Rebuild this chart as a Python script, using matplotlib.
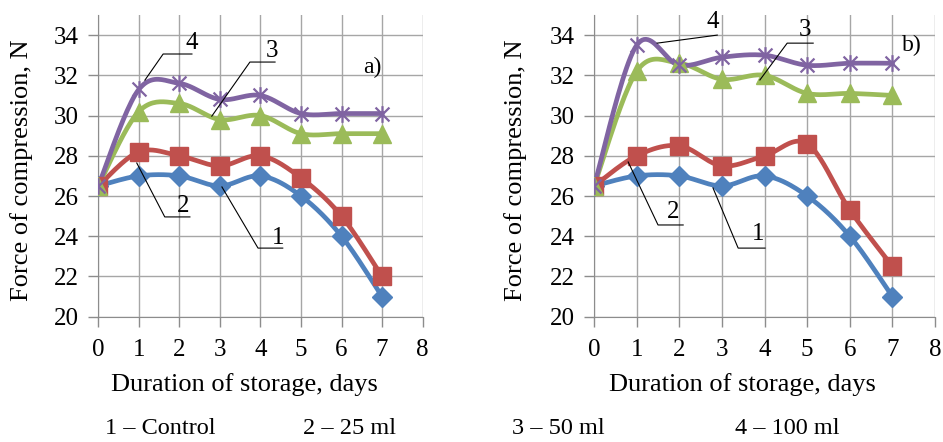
import numpy as np
import matplotlib
matplotlib.use('Agg')
import matplotlib.pyplot as plt
from matplotlib.path import Path

plt.rcParams['font.family'] = ['Liberation Serif', 'DejaVu Serif']

days = [0, 1, 2, 3, 4, 5, 6, 7]

# panel a)
a_control = [26.5, 27.0, 27.0, 26.5, 27.0, 26.0, 24.0, 21.0]
a_25ml = [26.5, 28.2, 28.0, 27.5, 28.0, 26.9, 25.0, 22.0]
a_50ml = [26.5, 30.2, 30.6, 29.8, 30.0, 29.1, 29.1, 29.1]
a_100ml = [26.5, 31.3, 31.6, 30.8, 31.0, 30.1, 30.1, 30.1]

# panel b)
b_control = [26.5, 27.0, 27.0, 26.5, 27.0, 26.0, 24.0, 21.0]
b_25ml = [26.5, 28.0, 28.5, 27.5, 28.0, 28.6, 25.3, 22.5]
b_50ml = [26.5, 32.2, 32.6, 31.8, 32.0, 31.1, 31.1, 31.0]
b_100ml = [26.5, 33.5, 32.5, 32.9, 33.0, 32.5, 32.6, 32.6]

legend_labels = ['1 \u2013 Control', '2 \u2013 25 ml', '3 \u2013 50 ml', '4 \u2013 100 ml']

colors = ['#4F81BD', '#C0504D', '#9BBB59', '#8064A2']

# excel-style star marker: x plus a vertical bar
star = Path([(-1, -1), (1, 1), (-1, 1), (1, -1), (0, -1.2), (0, 1.2)],
            [Path.MOVETO, Path.LINETO, Path.MOVETO, Path.LINETO, Path.MOVETO, Path.LINETO])


def smooth(x, y, n=24):
    # bezier smoothing like excel's "smoothed line"
    p = np.column_stack([x, y]).astype(float)
    p = np.vstack([p[0], p, p[-1]])
    out = []
    for i in range(1, len(p) - 2):
        p0, p1, p2, p3 = p[i - 1], p[i], p[i + 1], p[i + 2]
        c1 = p1 + (p2 - p0) / 6
        c2 = p2 - (p3 - p1) / 6
        t = np.linspace(0, 1, n)[:, None]
        seg = ((1 - t) ** 3) * p1 + 3 * ((1 - t) ** 2) * t * c1 + 3 * (1 - t) * t ** 2 * c2 + t ** 3 * p2
        out.append(seg if i == 1 else seg[1:])
    s = np.vstack(out)
    return s[:, 0], s[:, 1]


def draw_panel(ax, series, leaders, tag, tag_pos):
    ax.set_xlim(0, 8)
    ax.set_ylim(20, 35)
    ax.set_xticks(range(0, 9))
    ax.set_yticks(range(20, 35, 2))
    ax.grid(True, color='#a6a6a6', lw=1.0)
    ax.set_axisbelow(True)
    for s in ['top', 'right']:
        ax.spines[s].set_visible(False)
    for s in ['left', 'bottom']:
        ax.spines[s].set_color('#8c8c8c')
    ax.tick_params(direction='out', length=7, width=1, color='#8c8c8c', labelsize=18)
    ax.tick_params(axis='y', pad=7)
    ax.tick_params(axis='x', pad=9)

    markers = ['D', 's', '^', star]
    msizes = [10.5, 12.5, 12.5, 12]
    for vals, c, m, ms in zip(series, colors, markers, msizes):
        sx, sy = smooth(days, vals)
        ax.plot(sx, sy, color=c, lw=3.4, zorder=3)
        if m is star:
            ax.plot(days, vals, ls='none', marker=m, ms=ms, mfc='none', mec=c, mew=1.6, zorder=4)
        else:
            ax.plot(days, vals, ls='none', marker=m, ms=ms, mfc=c, mec=c, zorder=4)

    for lab, pts, tpos in leaders:
        xs, ys = zip(*pts)
        ax.plot(xs, ys, color='black', lw=0.8, zorder=5)
        ax.text(tpos[0], tpos[1], lab, fontsize=18, ha='center', va='center', zorder=6)
    ax.text(tag_pos[0], tag_pos[1], tag, fontsize=17, ha='center', va='center')


fig = plt.figure(figsize=(9.43, 4.42), dpi=100)
ax1 = fig.add_axes([0.1042, 0.2835, 0.344, 0.6826])
ax2 = fig.add_axes([0.630, 0.2835, 0.3616, 0.6826])

leaders_a = [
    ('4', [(1.15, 31.76), (1.60, 33.06), (2.31, 33.06)], (2.31, 33.6)),
    ('3', [(2.80, 29.97), (3.74, 32.66), (4.36, 32.66)], (4.28, 33.2)),
    ('2', [(0.95, 27.64), (1.64, 24.96), (2.26, 24.96)], (2.09, 25.5)),
    ('1', [(3.05, 26.45), (3.94, 23.41), (4.55, 23.41)], (4.43, 23.9)),
]
leaders_b = [
    ('4', [(1.48, 33.6), (2.89, 34.0)], (2.79, 34.65)),
    ('3', [(3.89, 31.77), (4.53, 33.6), (5.14, 33.6)], (4.95, 34.25)),
    ('2', [(0.80, 27.69), (1.50, 24.56), (2.09, 24.56)], (1.85, 25.2)),
    ('1', [(2.79, 26.4), (3.38, 23.41), (4.01, 23.41)], (3.85, 24.1)),
]

draw_panel(ax1, [a_control, a_25ml, a_50ml, a_100ml], leaders_a, 'a)', (6.77, 32.4))
draw_panel(ax2, [b_control, b_25ml, b_50ml, b_100ml], leaders_b, 'b)', (7.46, 33.5))

for xc, yc in [(22, 170), (516, 170)]:
    fig.text(xc / 943, 1 - yc / 442, 'Force of compression, N', rotation=90,
             fontsize=19, ha='center', va='center')
for xc in [244, 742]:
    fig.text(xc / 943, 1 - 385 / 442, 'Duration of storage, days', fontsize=19,
             ha='center', va='center')

for lab, xl in zip(legend_labels, [105, 303, 512, 735]):
    fig.text(xl / 943, 1 - 428 / 442, lab, fontsize=17.5, ha='left', va='center')

fig.savefig('out.png', dpi=100)
